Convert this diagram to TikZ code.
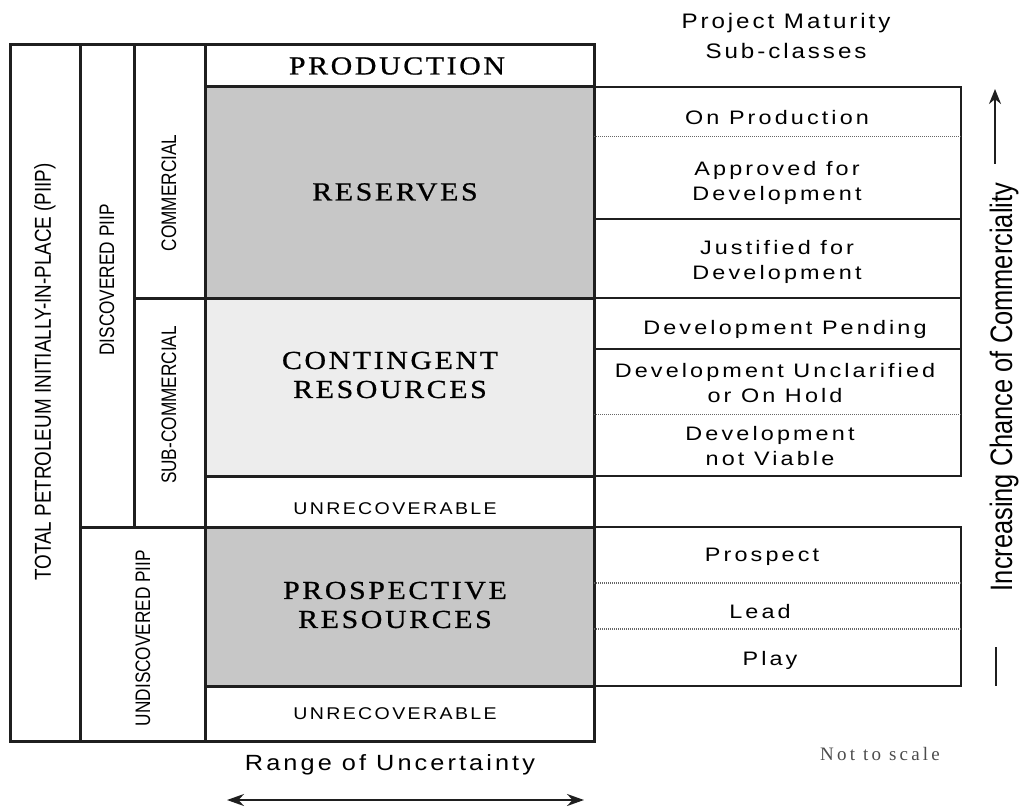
\documentclass[tikz,border=0pt]{standalone}
\usepackage{fontspec}
\setmainfont{Liberation Serif}
\newfontfamily\narrowsf[FakeStretch=0.82]{Liberation Sans}
\newfontfamily\spacedsf[FakeStretch=1.2,LetterSpace=16]{Liberation Sans}
\newfontfamily\titlesf[FakeStretch=1.15,LetterSpace=14]{Liberation Sans}
\newfontfamily\wideserif[FakeStretch=1.15,LetterSpace=10,FakeBold=0.8]{Liberation Serif}
\newfontfamily\scaleserif[LetterSpace=17]{Liberation Serif}
\usetikzlibrary{arrows.meta}
\definecolor{inkc}{gray}{0.12}
\definecolor{resgray}{gray}{0.78}
\definecolor{contgray}{gray}{0.93}
\begin{document}
\begin{tikzpicture}[x=1pt,y=-1pt,
  lbl/.style={inner sep=0pt, align=center, text=black},
  colsf/.style={lbl, rotate=90, font=\narrowsf\fontsize{21}{24}\selectfont},
  bigserif/.style={lbl, font=\wideserif\fontsize{26}{29}\selectfont},
  tabsf/.style={lbl, font=\spacedsf\fontsize{19.5}{25}\selectfont},
  unrec/.style={lbl, font=\titlesf\fontsize{17}{20}\selectfont},
  frame/.style={line width=3pt, draw=inkc},
  tframe/.style={line width=2.6pt, draw=inkc},
  rowrule/.style={line width=1.2pt, draw=inkc},
  dotrule/.style={line width=1pt, draw=black!60, densely dotted},
  resfill/.style={fill=resgray},
  contfill/.style={fill=contgray}]
\useasboundingbox (0,0) rectangle (1019,810);

% shaded classes
\fill[resfill] (205,87) rectangle (594,298);
\fill[contfill] (205,298) rectangle (594,476);
\fill[resfill] (205,527) rectangle (594,686);

% left frame and columns
\draw[frame] (10,45) rectangle (594,741);
\draw[frame] (80,45) -- (80,741);
\draw[frame] (134,45) -- (134,527);
\draw[frame] (205,45) -- (205,741);
\draw[frame] (80,527) -- (594,527);
\draw[frame] (134,298) -- (594,298);
\draw[frame] (205,87) -- (594,87);
\draw[frame] (205,476) -- (594,476);
\draw[frame] (205,686) -- (594,686);

% sub-class tables
\draw[tframe] (594,87) rectangle (961,476);
\draw[dotrule] (594,137) -- (961,137);
\draw[rowrule] (594,219) -- (961,219);
\draw[rowrule] (594,298) -- (961,298);
\draw[rowrule] (594,349) -- (961,349);
\draw[dotrule] (594,414) -- (961,414);
\draw[tframe] (594,527) rectangle (961,686);
\draw[dotrule,line width=1.3pt] (594,583) -- (961,583);
\draw[dotrule,line width=1.3pt] (594,629) -- (961,629);

% column labels
\node[colsf, font=\narrowsf\fontsize{23}{26}\selectfont] (total) at (45,372) {TOTAL PETROLEUM INITIALLY-IN-PLACE (PIIP)};
\node[colsf] (disc) at (107,280) {DISCOVERED PIIP};
\node[colsf] (undisc) at (143,638) {UNDISCOVERED PIIP};
\node[colsf] (comm) at (169,193) {COMMERCIAL};
\node[colsf] (subcomm) at (169,405) {SUB-COMMERCIAL};

% class labels
\node[bigserif] (prod) at (397,66) {PRODUCTION};
\node[bigserif] (res) at (395,192) {RESERVES};
\node[bigserif] (cont) at (390,375) {CONTINGENT\\RESOURCES};
\node[unrec] (unrec1) at (395,509) {UNRECOVERABLE};
\node[bigserif] (prosp) at (395,605) {PROSPECTIVE\\RESOURCES};
\node[unrec] (unrec2) at (395,714) {UNRECOVERABLE};

% sub-classes
\node[lbl, font=\titlesf\fontsize{21}{30}\selectfont] (title) at (786,36) {Project Maturity\\Sub-classes};
\node[tabsf] (onprod) at (777,118) {On Production};
\node[tabsf] (appr) at (777,183) {Approved for\\Development};
\node[tabsf] (just) at (777,262) {Justified for\\Development};
\node[tabsf] (pend) at (785,329) {Development Pending};
\node[tabsf] (uncl) at (775,383) {Development Unclarified\\or On Hold};
\node[tabsf] (nv) at (770,446) {Development\\not Viable};
\node[tabsf] (prospect) at (762,557) {Prospect};
\node[tabsf] (lead) at (760,612) {Lead};
\node[tabsf] (play) at (770,660) {Play};

% commerciality axis
\node[lbl, rotate=90, font=\narrowsf\fontsize{31}{34}\selectfont] (incr) at (1004,387) {Increasing Chance of Commerciality};
\coordinate (upfrom) at (995,164);
\coordinate (upto) at (995,89);
\draw[line width=2pt, draw=inkc, -{Stealth[length=15pt,width=12pt]}] (upfrom) -- (upto);
\coordinate (bartop) at (996,647);
\coordinate (barbot) at (996,686);
\draw[line width=2.6pt, draw=inkc] (bartop) -- (barbot);

% uncertainty axis
\node[lbl, font=\titlesf\fontsize{22}{24}\selectfont] (range) at (390,765) {Range of Uncertainty};
\coordinate (rleft) at (227,800);
\coordinate (rright) at (584,800);
\draw[line width=2pt, draw=inkc, {Stealth[length=17pt,width=12pt]}-{Stealth[length=17pt,width=12pt]}] (rleft) -- (rright);

\node[lbl, text=black!70, font=\scaleserif\fontsize{19}{22}\selectfont] (nts) at (880,754) {Not to scale};
\end{tikzpicture}
\end{document}
